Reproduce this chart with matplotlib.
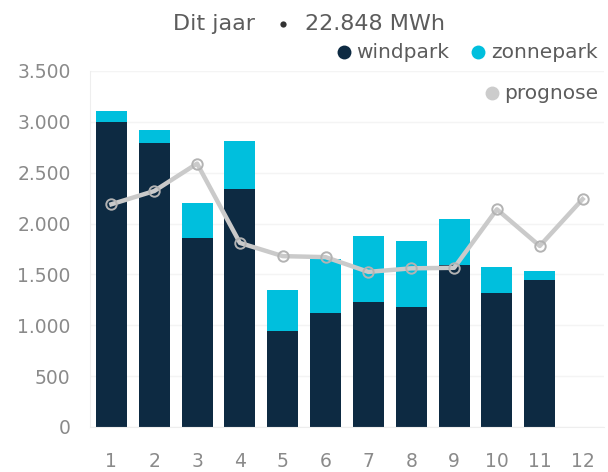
import matplotlib
matplotlib.use("Agg")
import matplotlib.pyplot as plt
from matplotlib.lines import Line2D
import numpy as np

months = [1, 2, 3, 4, 5, 6, 7, 8, 9, 10, 11, 12]
windpark = [3000, 2790, 1860, 2340, 945, 1120, 1230, 1180, 1590, 1320, 1445, 0]
zonnepark = [110, 130, 345, 470, 400, 530, 650, 650, 455, 255, 90, 0]
prognose = [2190, 2320, 2590, 1810, 1680, 1670, 1525, 1560, 1565, 2140, 1780, 2240]
yticks = [0, 500, 1000, 1500, 2000, 2500, 3000, 3500]
ytick_labels = ["0", "500", "1.000", "1.500", "2.000", "2.500", "3.000", "3.500"]

navy = "#0d2a42"
cyan = "#00bfdd"
grey = "#cacaca"
tick_grey = "#8a8a8a"
label_grey = "#5c5c5c"

W, H = 608, 472
fig = plt.figure(figsize=(W / 100, H / 100), dpi=100)
ax = fig.add_axes([90 / W, 1 - 427 / H, 514 / W, (427 - 71) / H])

x = np.array(months)
ax.bar(x, windpark, width=0.72, color=navy, zorder=2)
ax.bar(x, zonnepark, width=0.72, bottom=windpark, color=cyan, zorder=2)
ax.plot(x, prognose, color=grey, lw=3.2, zorder=3, marker='o', ms=7.5,
        mfc='none', mec='#b3b3b3', mew=1.4)

ax.set_xlim(0.5, 12.5)
ax.set_ylim(0, 3500)
ax.set_yticks(yticks)
ax.set_yticklabels(ytick_labels)
ax.set_xticks(x)
ax.tick_params(axis='both', length=0, labelsize=13.5, colors=tick_grey)
ax.tick_params(axis='x', pad=18)
ax.tick_params(axis='y', pad=14)
ax.grid(axis='y', color='#f4f4f4', lw=1, zorder=0)
for s in ['top', 'right']:
    ax.spines[s].set_visible(False)
ax.spines['left'].set_color('#eeeeee')
ax.spines['bottom'].set_color('#eeeeee')


def px(xp, yp):
    return xp / W, 1 - yp / H


def dot(xp, yp, color, size):
    fx, fy = px(xp, yp)
    fig.add_artist(Line2D([fx], [fy], marker='o', ms=size, color=color,
                          mec='none', transform=fig.transFigure))


# title
fig.text(*px(173, 30), "Dit jaar", fontsize=16, color=label_grey, va='baseline')
dot(283, 24, '#333333', 4.5)
fig.text(*px(305, 30), "22.848 MWh", fontsize=16, color=label_grey, va='baseline')

# legend
dot(344, 52, navy, 10)
fig.text(*px(356, 58), "windpark", fontsize=14.5, color=label_grey, va='baseline')
dot(478, 52, cyan, 10)
fig.text(*px(491, 58), "zonnepark", fontsize=14.5, color=label_grey, va='baseline')
dot(492, 93, '#cccccc', 10)
fig.text(*px(504, 99), "prognose", fontsize=14.5, color=label_grey, va='baseline')

fig.savefig("out.png", dpi=100)
